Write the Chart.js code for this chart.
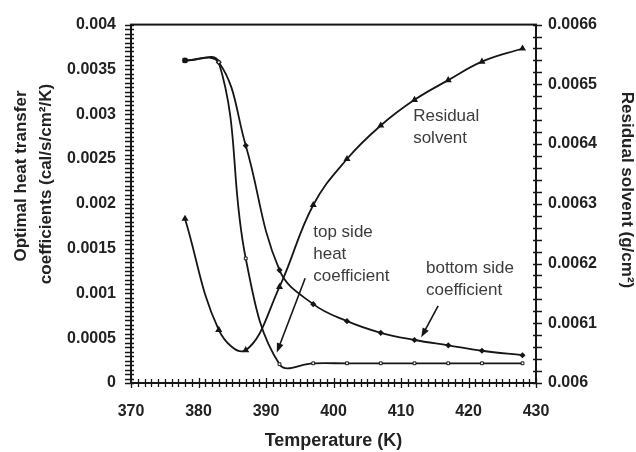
<!DOCTYPE html>
<html>
<head>
<meta charset="utf-8">
<script src="https://cdn.jsdelivr.net/npm/chart.js@4.4.1/dist/chart.umd.min.js"></script>
<style>
  html, body { margin: 0; padding: 0; background: #fff; }
  #wrap { width: 636px; height: 452px; }
</style>
</head>
<body>
<div id="wrap"><canvas id="chart"></canvas></div>
<script>
// ---- values ----
const temps = [378, 383, 387, 392, 397, 402, 407, 412, 417, 422, 428];
const topSide = [0.0036, 0.00358, 0.00139, 0.00021, 0.00022, 0.00022, 0.00022, 0.00022, 0.00022, 0.00022, 0.00022];
const bottomSide = [0.0036, 0.00358, 0.00265, 0.00126, 0.00088, 0.00069, 0.00056, 0.00048, 0.00042, 0.00036, 0.00031];
const residual = [0.006275, 0.006089, 0.006055, 0.006161, 0.006298, 0.006375, 0.006431, 0.006474, 0.006507, 0.006538, 0.00656];

const xTickLabels = [370, 380, 390, 400, 410, 420, 430];
const leftTickLabels = [0, 0.0005, 0.001, 0.0015, 0.002, 0.0025, 0.003, 0.0035, 0.004];
const rightTickLabels = [0.006, 0.0061, 0.0062, 0.0063, 0.0064, 0.0065, 0.0066];

const INK = '#161616';
const FONT = '"Liberation Sans", Arial, sans-serif';

// text notes on the plot, anchored in data units (x: K, y: left axis)
const notes = [
  { lines: ['Residual', 'solvent'], x: 411.8, y: 0.00298 },
  { lines: ['top side', 'heat', 'coefficient'], x: 397.0, y: 0.00168 },
  { lines: ['bottom side', 'coefficient'], x: 413.7, y: 0.00128 },
];
const arrows = [
  { from: [395.8, 0.00117], to: [391.6, 0.00034] },
  { from: [415.5, 0.00086], to: [413.0, 0.00051] },
];

function labelFrom(list) {
  return v => {
    const hit = list.find(l => Math.abs(l - v) < 1e-9);
    return hit === undefined ? '' : String(hit);
  };
}

// crossing tick marks, frame, notes, arrows and rotated axis titles
const decor = {
  id: 'decor',
  afterDraw(chart) {
    const { ctx, chartArea: a, scales } = chart;
    const { x, y, y2 } = scales;
    ctx.save();
    ctx.strokeStyle = INK;
    ctx.fillStyle = INK;

    ctx.lineWidth = 1.3;
    ctx.beginPath();
    x.ticks.forEach(t => {
      const px = Math.round(x.getPixelForValue(t.value)) + 0.5;
      const big = t.label !== '';
      ctx.moveTo(px, a.bottom - (big ? 5 : 4));
      ctx.lineTo(px, a.bottom + (big ? 5 : 4));
    });
    y.ticks.forEach(t => {
      const py = Math.round(y.getPixelForValue(t.value)) + 0.5;
      ctx.moveTo(a.left - 6, py);
      ctx.lineTo(a.left + 3, py);
    });
    y2.ticks.forEach(t => {
      const py = Math.round(y2.getPixelForValue(t.value)) + 0.5;
      ctx.moveTo(a.right - 3, py);
      ctx.lineTo(a.right + 6, py);
    });
    ctx.stroke();

    ctx.lineWidth = 2;
    ctx.strokeRect(a.left, a.top, a.right - a.left, a.bottom - a.top);

    // notes
    ctx.fillStyle = '#3c3c3c';
    ctx.font = '17px ' + FONT;
    ctx.textAlign = 'left';
    ctx.textBaseline = 'middle';
    notes.forEach(n => {
      const px = x.getPixelForValue(n.x);
      const py = y.getPixelForValue(n.y);
      n.lines.forEach((s, i) => ctx.fillText(s, px, py + i * 22));
    });

    // arrows
    ctx.strokeStyle = INK;
    ctx.fillStyle = INK;
    ctx.lineWidth = 1.6;
    arrows.forEach(ar => {
      const x0 = x.getPixelForValue(ar.from[0]), y0 = y.getPixelForValue(ar.from[1]);
      const x1 = x.getPixelForValue(ar.to[0]), y1 = y.getPixelForValue(ar.to[1]);
      const ang = Math.atan2(y1 - y0, x1 - x0);
      ctx.beginPath();
      ctx.moveTo(x0, y0);
      ctx.lineTo(x1 - 7 * Math.cos(ang), y1 - 7 * Math.sin(ang));
      ctx.stroke();
      ctx.beginPath();
      ctx.moveTo(x1, y1);
      ctx.lineTo(x1 - 10 * Math.cos(ang - 0.35), y1 - 10 * Math.sin(ang - 0.35));
      ctx.lineTo(x1 - 10 * Math.cos(ang + 0.35), y1 - 10 * Math.sin(ang + 0.35));
      ctx.closePath();
      ctx.fill();
    });

    // y axis titles
    ctx.fillStyle = '#222';
    ctx.font = 'bold 17px ' + FONT;
    ctx.textAlign = 'center';
    ctx.translate(21, 176);
    ctx.rotate(-Math.PI / 2);
    ctx.fillText('Optimal heat transfer', 0, 0);
    ctx.fillText('coefficients (cal/s/cm\u00B2/K)', -8, 25);
    ctx.setTransform(1, 0, 0, 1, 0, 0);
    ctx.translate(627, 190);
    ctx.rotate(Math.PI / 2);
    ctx.fillText('Residual solvent (g/cm\u00B2)', 0, 0);
    ctx.restore();
  },
};

const tickFont = { family: FONT, size: 16, weight: 'bold' };

new Chart(document.getElementById('chart'), {
  type: 'line',
  data: {
    labels: temps,
    datasets: [
      {
        label: 'top side heat coefficient',
        data: temps.map((t, i) => ({ x: t, y: topSide[i] })),
        yAxisID: 'y',
        borderColor: INK,
        borderWidth: 1.8,
        tension: 0.4,
        pointStyle: 'rect',
        pointRadius: ctx => (ctx.dataIndex === 0 ? 3 : 2),
        pointBorderWidth: 1,
        pointBorderColor: INK,
        pointBackgroundColor: ctx => (ctx.dataIndex === 0 ? INK : '#fff'),
      },
      {
        label: 'bottom side coefficient',
        data: temps.map((t, i) => ({ x: t, y: bottomSide[i] })),
        yAxisID: 'y',
        borderColor: INK,
        borderWidth: 1.8,
        tension: 0.4,
        pointStyle: 'rectRot',
        pointRadius: 1.8,
        pointBorderColor: INK,
        pointBackgroundColor: INK,
      },
      {
        label: 'Residual solvent',
        data: temps.map((t, i) => ({ x: t, y: residual[i] })),
        yAxisID: 'y2',
        borderColor: INK,
        borderWidth: 1.8,
        tension: 0.4,
        pointStyle: 'triangle',
        pointRadius: 2.3,
        pointBorderColor: INK,
        pointBackgroundColor: INK,
      },
    ],
  },
  options: {
    responsive: true,
    maintainAspectRatio: false,
    animation: false,
    layout: { padding: { top: 21, left: 0, right: 0, bottom: 0 } },
    plugins: { legend: { display: false }, tooltip: { enabled: false } },
    scales: {
      x: {
        type: 'linear',
        min: 370,
        max: 430,
        grid: { display: false, drawTicks: false },
        border: { display: false },
        ticks: {
          stepSize: 1,
          autoSkip: false,
          maxRotation: 0,
          padding: 19,
          color: '#222',
          font: tickFont,
          callback: labelFrom(xTickLabels),
        },
        title: {
          display: true,
          text: 'Temperature (K)',
          color: '#222',
          font: { family: FONT, size: 18, weight: 'bold' },
          padding: { top: 0, bottom: 0 },
        },
        afterFit: s => { s.height = 69; },
      },
      y: {
        position: 'left',
        min: 0,
        max: 0.004,
        grid: { display: false, drawTicks: false },
        border: { display: false },
        ticks: {
          stepSize: 0.00005,
          autoSkip: false,
          padding: 15,
          color: '#222',
          font: tickFont,
          callback: labelFrom(leftTickLabels),
        },
        afterFit: s => { s.width = 131; },
      },
      y2: {
        position: 'right',
        min: 0.006,
        max: 0.0066,
        grid: { display: false, drawTicks: false },
        border: { display: false },
        ticks: {
          stepSize: 0.00002,
          autoSkip: false,
          padding: 12,
          color: '#222',
          font: tickFont,
          callback: labelFrom(rightTickLabels),
        },
        afterFit: s => { s.width = 100; },
      },
    },
  },
  plugins: [decor],
});
</script>
</body>
</html>
